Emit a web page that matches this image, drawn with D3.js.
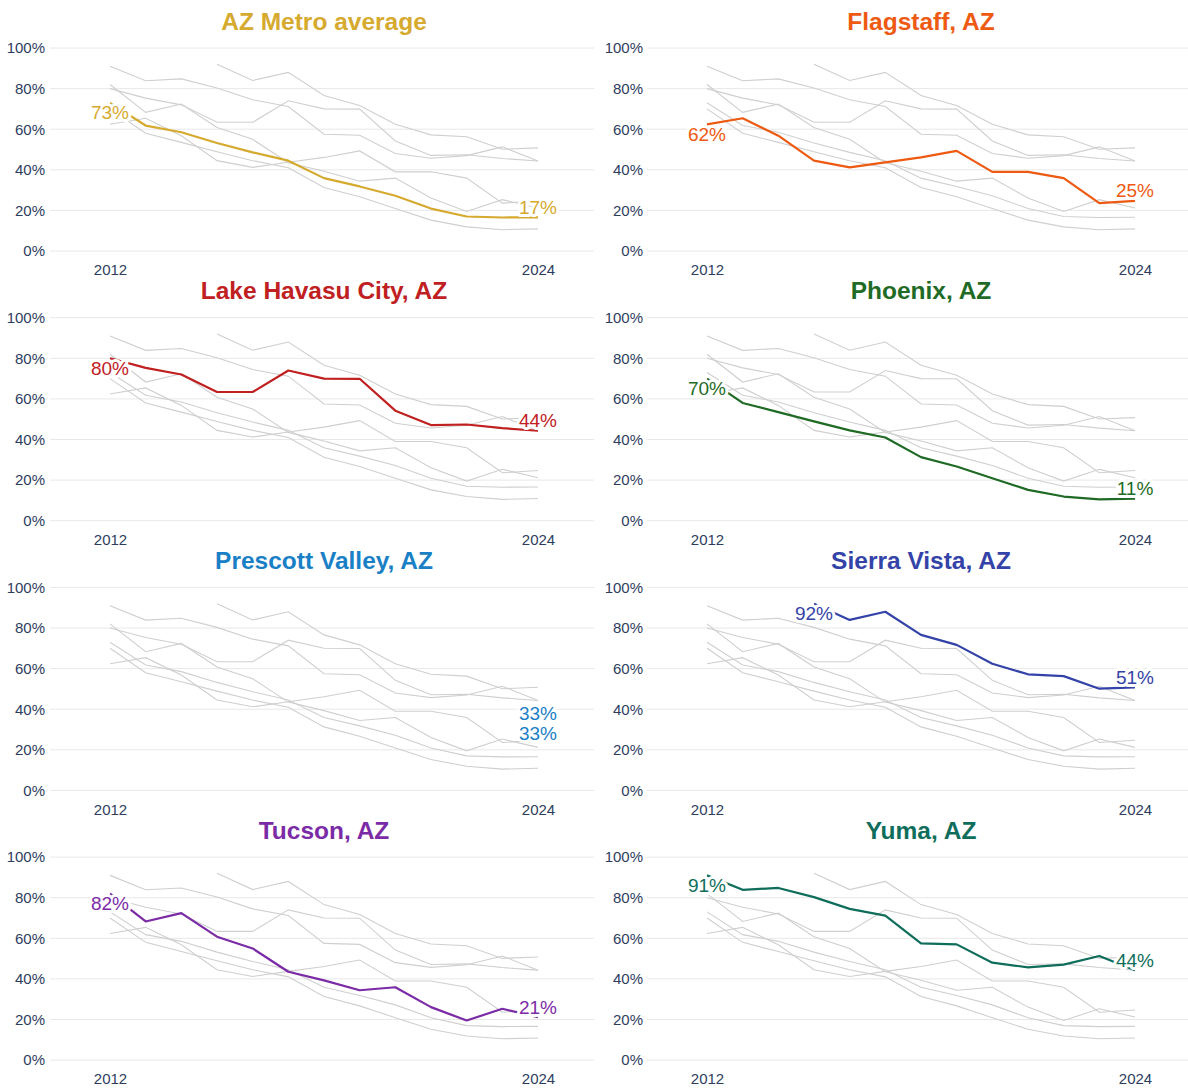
<!DOCTYPE html>
<html>
<head>
<meta charset="utf-8">
<script src="https://cdn.jsdelivr.net/npm/d3@7"></script>
<style>
  html, body { margin: 0; padding: 0; background: #ffffff; }
  svg { display: block; font-family: "Liberation Sans", Arial, sans-serif; }
</style>
</head>
<body>
<svg id="chart" width="1188" height="1088"></svg>
<script>
const years = [2012, 2013, 2014, 2015, 2016, 2017, 2018, 2019, 2020, 2021, 2022, 2023, 2024];
const yTicks = [0, 20, 40, 60, 80, 100];
const xTickLabels = [2012, 2024];

const panelNames = ["AZ Metro average", "Flagstaff, AZ", "Lake Havasu City, AZ", "Phoenix, AZ",
                    "Prescott Valley, AZ", "Sierra Vista, AZ", "Tucson, AZ", "Yuma, AZ"];
const panelColors = ["#d6aa2f", "#ee5a12", "#c0201f", "#1f6b26", "#1a80c6", "#3443a8", "#7b2ba6", "#0f6e5b"];

const metro     = [73, 61.8, 58.5, 53.2, 48.6, 44.5, 35.9, 31.8, 27.2, 20.9, 17.0, 16.5, 16.6];
const flagstaff = [62.4, 65.4, 56.8, 44.5, 41.2, 43.7, 46.1, 49.3, 39.0, 39.0, 35.9, 23.6, 24.7];
const havasu    = [80, 75.3, 72.0, 63.4, 63.4, 74.0, 70.0, 69.9, 54.2, 47.1, 47.4, 45.6, 44.3];
const phoenix   = [70, 58.0, 53.5, 48.9, 44.5, 41.0, 31.3, 26.7, 20.9, 15.2, 11.9, 10.5, 10.9];
const prescott  = [null, null, null, null, null, null, null, null, null, null, null, null, 33];
const sierra    = [null, null, null, 92, 84.0, 88.0, 76.6, 71.7, 62.4, 57.2, 56.3, 50.1, 50.8];
const tucson    = [82, 68.3, 72.4, 60.8, 55.0, 43.5, 39.3, 34.4, 35.9, 26.1, 19.5, 25.3, 21.2];
const yuma      = [91, 83.9, 84.8, 80.3, 74.5, 71.2, 57.5, 57.0, 48.0, 45.7, 47.0, 51.3, 44.3];

const seriesValues = [metro, flagstaff, havasu, phoenix, prescott, sierra, tucson, yuma];

const series = panelNames.map((name, i) => ({
  name, color: panelColors[i],
  pts: years.map((yr, j) => ({ year: yr, v: seriesValues[i][j] })).filter(p => p.v !== null)
}));

const svg = d3.select("#chart");
const rowH = 269.7;
const cols = [
  { xr: [110, 538], grid: [50, 594], lab: 45, titleX: 324 },
  { xr: [707, 1135], grid: [647, 1188], lab: 643, titleX: 921 }
];

series.forEach((s, i) => {
  const c = cols[i % 2];
  const r = Math.floor(i / 2);
  const top = 48 + r * rowH, bottom = 251 + r * rowH;
  const x = d3.scaleLinear().domain([2012, 2024]).range(c.xr);
  const y = d3.scaleLinear().domain([0, 100]).range([bottom, top]);
  const g = svg.append("g");

  // title
  g.append("text").attr("x", c.titleX).attr("y", top - 27)
    .attr("text-anchor", "middle").attr("dominant-baseline", "central")
    .attr("font-size", 24.5).attr("font-weight", "bold").attr("fill", s.color)
    .text(s.name);

  // gridlines
  g.selectAll(".grid").data(yTicks).enter().append("line")
    .attr("x1", c.grid[0]).attr("x2", c.grid[1])
    .attr("y1", d => y(d)).attr("y2", d => y(d))
    .attr("stroke", "#e8e8e8").attr("stroke-width", 1);

  // y axis labels
  const yAxis = d3.axisLeft(y).tickValues(yTicks).tickFormat(d => d + "%").tickSize(0).tickPadding(0);
  const ya = g.append("g").attr("transform", `translate(${c.lab},0)`).call(yAxis);
  ya.select(".domain").remove();
  ya.selectAll("text").attr("font-size", 15).attr("fill", "#2e3d5e")
    .attr("font-family", "'Liberation Sans', Arial, sans-serif");

  // x axis labels
  const xAxis = d3.axisBottom(x).tickValues(xTickLabels).tickFormat(d3.format("d")).tickSize(0).tickPadding(0);
  const xa = g.append("g").attr("transform", `translate(0,${bottom + 13.5})`).call(xAxis);
  xa.select(".domain").remove();
  xa.selectAll("text").attr("font-size", 15).attr("fill", "#2e3d5e")
    .attr("font-family", "'Liberation Sans', Arial, sans-serif");

  const line = d3.line().x(d => x(d.year)).y(d => y(d.v));

  // gray context lines
  series.forEach(o => {
    if (o.pts.length > 1) {
      g.append("path").attr("d", line(o.pts)).attr("fill", "none")
        .attr("stroke", "#cfcfcf").attr("stroke-width", 1.1);
    }
  });

  // highlighted line
  if (s.pts.length > 1) {
    g.append("path").attr("d", line(s.pts)).attr("fill", "none")
      .attr("stroke", s.color).attr("stroke-width", 2.2).attr("stroke-linejoin", "round");
  }

  // start / end labels
  const first = s.pts[0], last = s.pts[s.pts.length - 1];
  const labels = [
    { p: first, dy: 10 },
    { p: last, dy: -10 }
  ];
  labels.forEach(l => {
    g.append("text").attr("x", x(l.p.year)).attr("y", y(l.p.v) + l.dy)
      .attr("text-anchor", "middle").attr("dominant-baseline", "central")
      .attr("font-size", 19).attr("fill", s.color)
      .attr("stroke", "#ffffff").attr("stroke-width", 6).attr("paint-order", "stroke")
      .attr("stroke-linejoin", "round")
      .text(Math.round(l.p.v) + "%");
  });
});
</script>
</body>
</html>
